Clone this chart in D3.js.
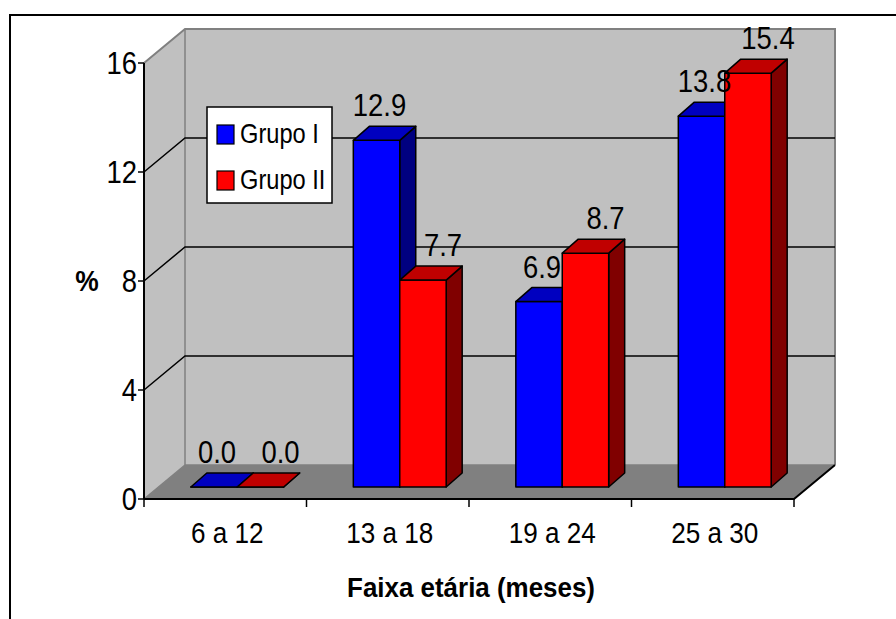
<!DOCTYPE html>
<html>
<head>
<meta charset="utf-8">
<script src="https://cdn.jsdelivr.net/npm/d3@7"></script>
<style>
  html, body { margin: 0; padding: 0; background: #ffffff; }
  svg { display: block; }
  text { font-family: "Liberation Sans", Arial, sans-serif; fill: #000; }
</style>
</head>
<body>
<svg id="chart" width="896" height="619"></svg>
<script>
// Age ranges (months) and percentage per group
const categories = ["6 a 12", "13 a 18", "19 a 24", "25 a 30"];
const seriesNames = ["Grupo I", "Grupo II"];
const grupoI = [0.0, 12.9, 6.9, 13.8];
const grupoII = [0.0, 7.7, 8.7, 15.4];
const yTicks = [0, 4, 8, 12, 16];
const gridValues = [4, 8, 12];
const axisTitleX = "Faixa etária (meses)";
const axisTitleY = "%";

const colors = {
  "Grupo I":  { front: "#0000ff", top: "#0000c0", side: "#000080" },
  "Grupo II": { front: "#ff0000", top: "#c00000", side: "#800000" }
};

const svg = d3.select("#chart");

// outer frame (runs off the right and bottom edges)
svg.append("rect")
  .attr("x", 10).attr("y", 15).attr("width", 940).attr("height", 700)
  .attr("fill", "#fff").attr("stroke", "#000").attr("stroke-width", 2);

// front plane of the 3D box
const x0 = 144, x1 = 794;
const DX = 41, DY = -34;          // depth of the box
const BX = 12, BY = -12;          // bars sit a little behind the front plane
const BDX = 16, BDY = -14;        // depth of each bar

const x = d3.scaleBand().domain(categories).range([x0, x1]).paddingInner(0).paddingOuter(0);
const xs = d3.scaleBand().domain(seriesNames).range([0, x.bandwidth()]).paddingInner(0).paddingOuter(0.75);
const y = d3.scaleLinear().domain([0, 16]).range([499, 63]);
const yb = d3.scaleLinear().domain([0, 16]).range([499 + BY, 57]);

const pts = a => a.map(p => p.join(",")).join(" ");
const yTop = y(16), yBot = y(0);

// walls and floor
const walls = svg.append("g");
walls.append("polygon")   // back wall
  .attr("points", pts([[x0 + DX, yTop + DY], [x1 + DX, yTop + DY], [x1 + DX, yBot + DY], [x0 + DX, yBot + DY]]))
  .attr("fill", "#c0c0c0");
walls.append("polygon")   // side wall
  .attr("points", pts([[x0, yTop], [x0 + DX, yTop + DY], [x0 + DX, yBot + DY], [x0, yBot]]))
  .attr("fill", "#c0c0c0");
walls.append("polygon")   // floor
  .attr("points", pts([[x0, yBot], [x0 + DX, yBot + DY], [x1 + DX, yBot + DY], [x1, yBot]]))
  .attr("fill", "#808080");

// wall edges
walls.append("polyline")
  .attr("points", pts([[x0, yTop], [x0 + DX, yTop + DY], [x1 + DX, yTop + DY], [x1 + DX, yBot + DY]]))
  .attr("fill", "none").attr("stroke", "#808080").attr("stroke-width", 2);
walls.append("polyline")
  .attr("points", pts([[x0 + DX, yTop + DY], [x0 + DX, yBot + DY], [x1 + DX, yBot + DY]]))
  .attr("fill", "none").attr("stroke", "#808080").attr("stroke-width", 1.5);
walls.append("line")
  .attr("x1", x0).attr("y1", yBot).attr("x2", x0 + DX).attr("y2", yBot + DY)
  .attr("stroke", "#808080").attr("stroke-width", 1.5);

// gridlines across side and back wall
walls.selectAll("polyline.grid").data(gridValues).join("polyline")
  .attr("class", "grid")
  .attr("points", v => pts([[x0, y(v)], [x0 + DX, y(v) + DY], [x1 + DX, y(v) + DY]]))
  .attr("fill", "none").attr("stroke", "#000").attr("stroke-width", 1.5);

// axes
const axes = svg.append("g");
axes.append("line").attr("x1", x0).attr("y1", yTop).attr("x2", x0).attr("y2", yBot)
  .attr("stroke", "#000").attr("stroke-width", 2);
axes.append("polyline")
  .attr("points", pts([[x0, yBot], [x1, yBot], [x1 + DX, yBot + DY]]))
  .attr("fill", "none").attr("stroke", "#000").attr("stroke-width", 2);
axes.selectAll("line.ytick").data(yTicks).join("line")
  .attr("class", "ytick")
  .attr("x1", x0 - 6).attr("x2", x0).attr("y1", d => y(d)).attr("y2", d => y(d))
  .attr("stroke", "#000").attr("stroke-width", 1.5);
const boundaries = categories.map(c => x(c)).concat([x1]);
axes.selectAll("line.xtick").data(boundaries).join("line")
  .attr("class", "xtick")
  .attr("x1", d => d).attr("x2", d => d).attr("y1", yBot).attr("y2", yBot + 8)
  .attr("stroke", "#000").attr("stroke-width", 1.5);

// condensed text helper
function label(g, tx, ty, str, size, anchor, sx, weight) {
  return g.append("text")
    .attr("transform", `translate(${tx},${ty}) scale(${sx},1)`)
    .attr("text-anchor", anchor)
    .attr("font-size", size)
    .attr("font-weight", weight || "normal")
    .text(str);
}

const texts = svg.append("g");
yTicks.forEach(t => label(texts, x0 - 7, y(t) + 11, String(t), 30.5, "end", 0.9));
categories.forEach(c => label(texts, x(c) + x.bandwidth() / 2 + 2, 543, c, 30, "middle", 0.87));
label(texts, (x0 + x1) / 2 + 2, 597, axisTitleX, 28.5, "middle", 0.91, "bold");
label(texts, 87, 291, axisTitleY, 30, "middle", 0.88, "bold");

// bars
const rows = categories.map((c, i) => ({ cat: c, vals: [grupoI[i], grupoII[i]] }));
const bars = svg.append("g");
const w = xs.bandwidth();
const base = yb(0);
const labelShift = { "Grupo I": 3, "Grupo II": 20 };

rows.forEach(r => {
  seriesNames.forEach((s, si) => {
    const v = r.vals[si];
    const bx = x(r.cat) + xs(s) + BX;
    const top = yb(v);
    const col = colors[s];
    const g = bars.append("g");
    g.append("polygon")   // side
      .attr("points", pts([[bx + w, top], [bx + w + BDX, top + BDY], [bx + w + BDX, base + BDY], [bx + w, base]]))
      .attr("fill", col.side).attr("stroke", "#000").attr("stroke-width", 1.5).attr("stroke-linejoin", "round");
    g.append("polygon")   // front
      .attr("points", pts([[bx, top], [bx + w, top], [bx + w, base], [bx, base]]))
      .attr("fill", col.front).attr("stroke", "#000").attr("stroke-width", 1.5).attr("stroke-linejoin", "round");
    g.append("polygon")   // top
      .attr("points", pts([[bx, top], [bx + BDX, top + BDY], [bx + w + BDX, top + BDY], [bx + w, top]]))
      .attr("fill", col.top).attr("stroke", "#000").attr("stroke-width", 1.5).attr("stroke-linejoin", "round");
  });
});

// value labels
rows.forEach(r => {
  seriesNames.forEach((s, si) => {
    const v = r.vals[si];
    const bx = x(r.cat) + xs(s) + BX;
    label(texts.raise(), bx + w / 2 + labelShift[s], yb(v) + BDY - 10, v.toFixed(1), 30.5, "middle", 0.9);
  });
});

// legend
const lg = svg.append("g");
lg.append("rect").attr("x", 207).attr("y", 107).attr("width", 125).attr("height", 96)
  .attr("fill", "#fff").attr("stroke", "#000").attr("stroke-width", 1.5);
seriesNames.forEach((s, i) => {
  lg.append("rect").attr("x", 217).attr("y", 125 + i * 46).attr("width", 17).attr("height", 19)
    .attr("fill", colors[s].front).attr("stroke", "#000").attr("stroke-width", 1.2);
  label(lg, 240, 143 + i * 46, s, 28.5, "start", 0.83);
});
</script>
</body>
</html>
